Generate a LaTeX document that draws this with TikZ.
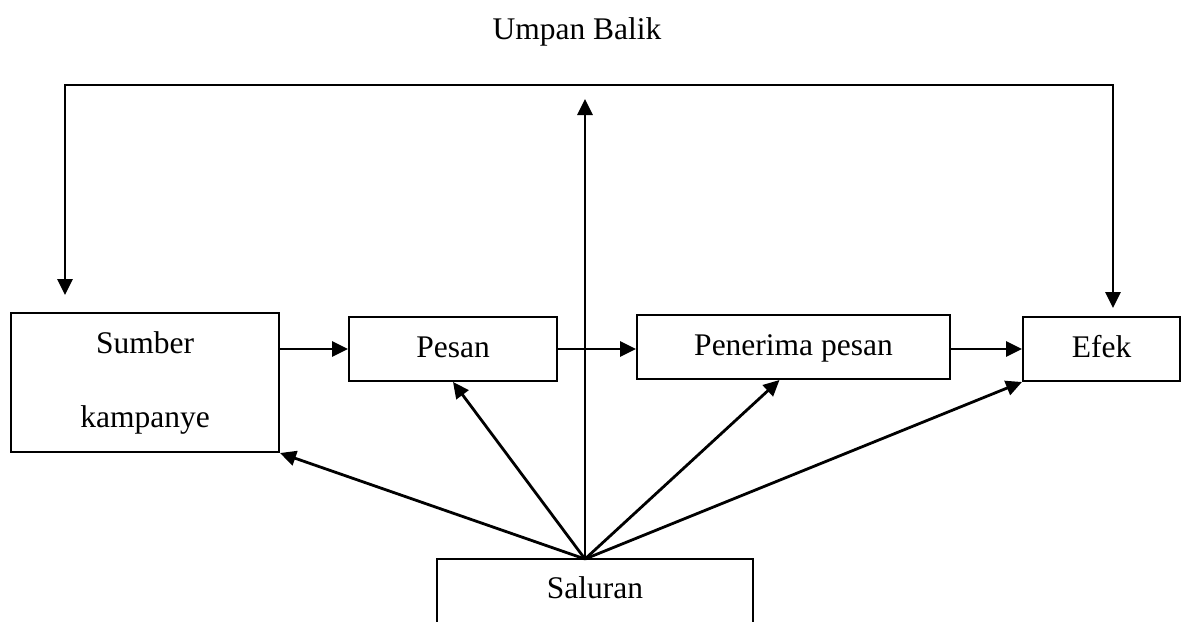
\documentclass[tikz,border=0pt]{standalone}
\usepackage{fontspec}
\setmainfont{Liberation Serif}
\usetikzlibrary{arrows.meta,positioning}
\tikzset{
  box/.style={draw,line width=1pt,inner sep=0pt,text height=11pt,text depth=3pt,
    font=\fontsize{15.75}{19}\selectfont},
  headtri/.tip={Triangle[length=8pt,width=7.5pt]},
  arr/.style={-headtri,line width=1.4pt}
}

\begin{document}
\begin{tikzpicture}[x=0.5pt,y=-0.5pt]
  \useasboundingbox (0,0) rectangle (1181,621);
  \node[font=\fontsize{15.75}{19}\selectfont] (umpan) at (577,32) {Umpan Balik};
  \node[box,text height=,text depth=,minimum width=134pt,minimum height=69.5pt,align=center,
        font=\fontsize{15.75}{37}\selectfont] (sumber) at (145,382.5) {Sumber\\kampanye};
  \node[box,minimum width=104pt,minimum height=32pt] (pesan) at (453,349) {Pesan};
  \node[box,minimum width=156.5pt,minimum height=32pt] (penerima) at (793.5,347) {Penerima pesan};
  \node[box,minimum width=78.5pt,minimum height=32pt] (efek) at (1101.5,349) {Efek};
  \node[box,draw=none,minimum width=157pt,minimum height=30pt] (saluran) at (595,590) {Saluran};
  \draw[line width=1pt] ([yshift=-3pt]saluran.south west) -- (saluran.north west)
    -- (saluran.north east) -- ([yshift=-3pt]saluran.south east);
  \coordinate (hub) at (585,559);
  \coordinate (peak) at (585,99);
  \coordinate (fbs) at (65,295);
  \coordinate (fbe) at (1113,308);
  \draw[arr] (sumber.east |- pesan.west) -- (pesan.west);
  \draw[arr] (pesan.east) -- (penerima.west |- pesan.east);
  \draw[arr] (penerima.east |- efek.west) -- (efek.west);
  \draw[arr] (hub) -- (sumber.south east);
  \draw[arr] (hub) -- (pesan.south);
  \draw[arr] (hub) -- ([xshift=-7pt]penerima.south);
  \draw[arr] (hub) -- (efek.south west);
  \draw[arr] (saluran.north -| hub) -- (peak);
  \draw[arr,headtri-headtri] (fbs) -- ++(0,-210) -| (fbe);
\end{tikzpicture}
\end{document}
